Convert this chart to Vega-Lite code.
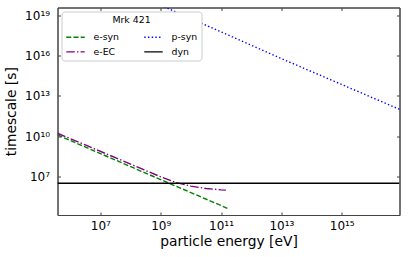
{
  "$schema": "https://vega.github.io/schema/vega-lite/v6.json",
  "autosize": {"type": "none"},
  "width": 342,
  "height": 207.5,
  "padding": {"left": 57.5, "top": 7.5, "right": 11.5, "bottom": 42},
  "background": "white",
  "config": {
    "font": "DejaVu Sans",
    "view": {"stroke": "#444", "strokeWidth": 1},
    "axis": {
      "grid": false,
      "domainColor": "#444",
      "tickColor": "#444",
      "tickSize": -3,
      "labelFont": "DejaVu Sans",
      "titleFont": "DejaVu Sans",
      "labelColor": "black",
      "titleColor": "black",
      "labelFontSize": 12,
      "titleFontSize": 13.8,
      "titleFontWeight": "normal"
    }
  },
  "datasets": {
    "curves": [
      {"series": "e-syn", "energy": 380189, "time": 1.259e10},
      {"series": "e-syn", "energy": 1e7, "time": 5.25e8},
      {"series": "e-syn", "energy": 1e9, "time": 6.03e6},
      {"series": "e-syn", "energy": 1.622e11, "time": 44668},
      {"series": "e-EC", "energy": 380189, "time": 1.698e10},
      {"series": "e-EC", "energy": 3.162e6, "time": 2.291e9},
      {"series": "e-EC", "energy": 3.162e7, "time": 2.57e8},
      {"series": "e-EC", "energy": 3.162e8, "time": 2.884e7},
      {"series": "e-EC", "energy": 1e9, "time": 9.77e6},
      {"series": "e-EC", "energy": 3.162e9, "time": 3.715e6},
      {"series": "e-EC", "energy": 1e10, "time": 1.995e6},
      {"series": "e-EC", "energy": 3.162e10, "time": 1.318e6},
      {"series": "e-EC", "energy": 1e11, "time": 1.047e6},
      {"series": "e-EC", "energy": 1.445e11, "time": 1.0e6},
      {"series": "p-syn", "energy": 1e9, "time": 5.623e19},
      {"series": "p-syn", "energy": 1e13, "time": 6.026e15},
      {"series": "p-syn", "energy": 8.222e16, "time": 1.023e12},
      {"series": "dyn", "energy": 380189, "time": 3.236e6},
      {"series": "dyn", "energy": 8.222e16, "time": 3.236e6}
    ]
  },
  "data": {"name": "curves"},
  "layer": [
    {
      "mark": {"type": "line", "strokeWidth": 1.4, "clip": true},
      "encoding": {
        "x": {
          "field": "energy", "type": "quantitative",
          "scale": {"type": "log", "domain": [380189, 8.222e16], "nice": false},
          "axis": {
            "orient": "bottom",
            "title": "particle energy [eV]",
            "values": [1e7, 1e9, 1e11, 1e13, 1e15],
            "labelExpr": "datum.value == 1e7 ? '10⁷' : datum.value == 1e9 ? '10⁹' : datum.value == 1e11 ? '10¹¹' : datum.value == 1e13 ? '10¹³' : '10¹⁵'",
            "labelPadding": 8,
            "titlePadding": 3
          }
        },
        "y": {
          "field": "time", "type": "quantitative",
          "scale": {"type": "log", "domain": [14125, 3.802e19], "nice": false},
          "axis": {
            "orient": "left",
            "title": "timescale [s]",
            "values": [1e7, 1e10, 1e13, 1e16, 1e19],
            "labelExpr": "datum.value == 1e7 ? '10⁷' : datum.value == 1e10 ? '10¹⁰' : datum.value == 1e13 ? '10¹³' : datum.value == 1e16 ? '10¹⁶' : '10¹⁹'",
            "labelPadding": 11,
            "titlePadding": 6
          }
        },
        "color": {
          "field": "series", "type": "nominal",
          "scale": {"domain": ["e-syn", "e-EC", "p-syn", "dyn"], "range": ["#008000", "#800080", "#0000ff", "#000000"]},
          "legend": {
            "title": "Mrk 421",
            "orient": "top-left",
            "offset": 4,
            "columns": 2,
            "symbolType": "stroke",
            "symbolSize": 340,
            "symbolStrokeWidth": 1.4,
            "labelFontSize": 9.4,
            "titleFontSize": 9.4,
            "titleFontWeight": "normal",
            "titleAnchor": "middle",
            "titleColor": "black",
            "labelColor": "black",
            "labelOffset": 8,
            "columnPadding": 21,
            "rowPadding": -4.8,
            "titlePadding": 2,
            "padding": 4,
            "strokeColor": "#cccccc",
            "fillColor": "white",
            "cornerRadius": 3
          }
        },
        "strokeDash": {
          "field": "series", "type": "nominal",
          "scale": {"domain": ["e-syn", "e-EC", "p-syn", "dyn"], "range": [[5, 2.2], [8.5, 2.2, 1.4, 2.2], [1.4, 2.3], [1, 0]]},
          "legend": {
            "title": "Mrk 421"
          }
        }
      }
    },
    {
      "mark": {"type": "line", "opacity": 0},
      "encoding": {
        "x": {
          "field": "energy", "type": "quantitative",
          "axis": {"orient": "top", "title": null, "labels": false, "values": [1e7, 1e9, 1e11, 1e13, 1e15]}
        },
        "y": {
          "field": "time", "type": "quantitative",
          "axis": {"orient": "right", "title": null, "labels": false, "values": [1e7, 1e10, 1e13, 1e16, 1e19]}
        }
      }
    }
  ],
  "resolve": {"axis": {"x": "independent", "y": "independent"}}
}
